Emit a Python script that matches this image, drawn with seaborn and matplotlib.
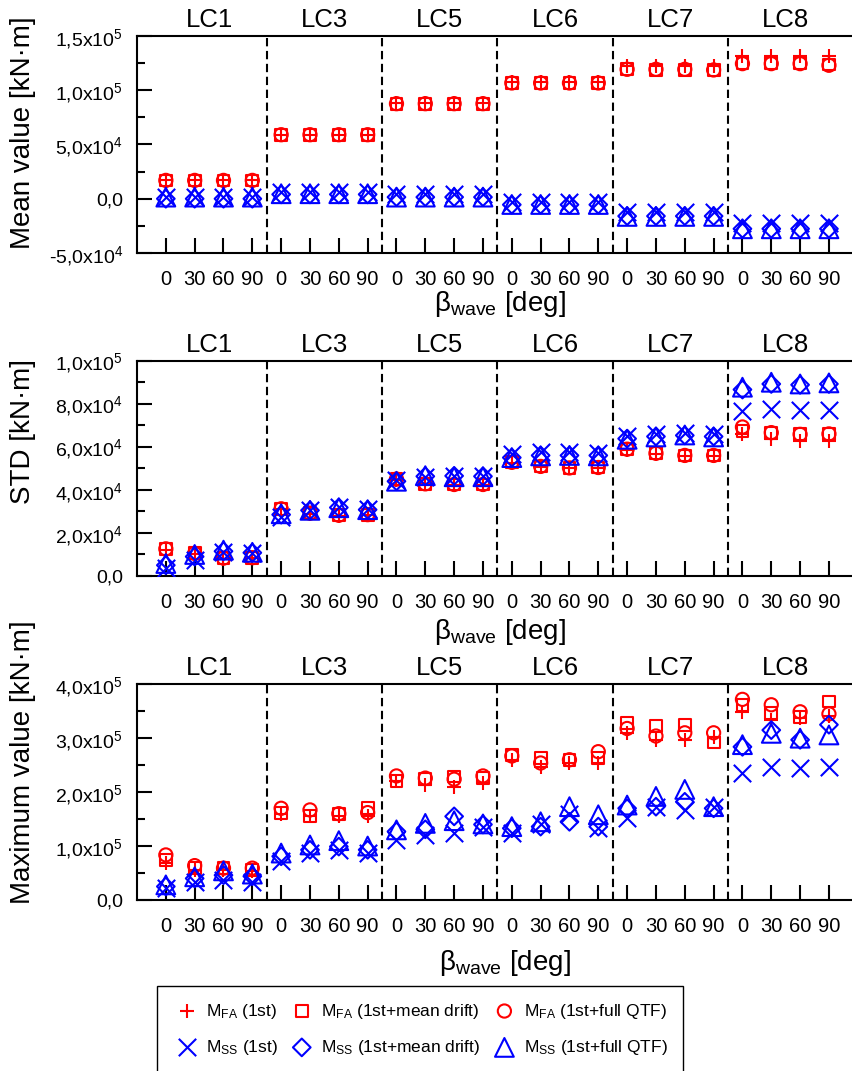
import numpy as np
import pandas as pd
import matplotlib
matplotlib.use("Agg")
import matplotlib.pyplot as plt
from matplotlib.ticker import MultipleLocator
import seaborn as sns

# Load cases and wave headings
load_cases = ['LC1', 'LC3', 'LC5', 'LC6', 'LC7', 'LC8']
headings = [0, 30, 60, 90]

# Mean value [kN·m]
mean_fa_1st = [17000, 17000, 17000, 17000, 59000, 59000, 59000, 59000,
               88000, 88000, 88000, 88000, 107500, 107500, 107500, 107500,
               122500, 122000, 122000, 122000, 132000, 132000, 132000, 132000]
mean_fa_drift = [16800, 16800, 16800, 16800, 59000, 59000, 59000, 59000,
                 87500, 87500, 87500, 87500, 106700, 106700, 106700, 106700,
                 119500, 119000, 119000, 118800, 125000, 124800, 124800, 123800]
mean_fa_qtf = [16900, 16900, 16900, 16900, 59000, 59000, 59000, 59000,
               87600, 87600, 87600, 87600, 106700, 106700, 106700, 106700,
               119300, 119300, 119300, 118700, 124500, 124500, 124500, 123000]
mean_ss_1st = [1500, 1500, 1500, 1500, 6000, 6000, 6000, 6000,
               4600, 4600, 4600, 4600, -3400, -3400, -3400, -3400,
               -12300, -12300, -12300, -12300, -22700, -22700, -22700, -22700]
mean_ss_drift = [0, 0, 0, 0, 4000, 4000, 4000, 4000,
                 1500, 1500, 1500, 1500, -5500, -5500, -5500, -5500,
                 -16000, -16000, -16000, -16000, -27700, -27700, -27700, -27700]
mean_ss_qtf = [1500, 1500, 1500, 1500, 4600, 4600, 4600, 4600,
               1500, 1500, 1500, 1500, -5300, -5300, -5300, -5300,
               -16300, -16300, -16300, -16300, -27700, -27700, -27700, -27700]

# Standard deviation [kN·m]
std_fa_1st = [12300, 10300, 8000, 8200, 31000, 29000, 28000, 28300,
              44700, 42600, 42300, 42300, 52500, 50600, 50000, 50200,
              58700, 56800, 55800, 55800, 65800, 63500, 62700, 62700]
std_fa_drift = [12500, 10500, 8300, 8400, 31200, 29200, 28200, 28500,
                45000, 42800, 42500, 42500, 52800, 50900, 50200, 50400,
                58900, 57000, 56000, 56000, 67400, 66600, 65800, 66000]
std_fa_qtf = [12600, 10500, 8300, 8500, 31200, 29200, 28200, 28500,
              45000, 42800, 42500, 42500, 52800, 50900, 50200, 50400,
              58900, 57000, 56000, 56000, 69200, 66600, 65800, 66000]
std_ss_1st = [3500, 7500, 11000, 10500, 27400, 30500, 32000, 31000,
              44500, 46000, 46500, 46500, 56600, 57400, 57400, 57000,
              65000, 65800, 66300, 65800, 76600, 77400, 77000, 77000]
std_ss_drift = [5000, 9000, 11500, 10800, 28500, 30500, 31800, 30800,
                44000, 46300, 46500, 46300, 55000, 56000, 56000, 56000,
                63800, 64800, 65300, 64800, 86600, 89200, 88800, 89200]
std_ss_qtf = [5800, 10000, 12000, 11000, 28900, 30500, 31700, 30800,
              44000, 46600, 46100, 46100, 55000, 55800, 56000, 55800,
              63500, 64600, 65500, 64600, 87700, 90000, 89200, 89700]

# Maximum value [kN·m]
max_fa_1st = [68000, 56000, 56000, 53000, 160000, 155000, 155000, 156000,
              220000, 213000, 210000, 216000, 260000, 247000, 254000, 254000,
              309000, 297000, 297000, 303000, 349000, 334000, 338000, 342000]
max_fa_drift = [74000, 59000, 59000, 56000, 161000, 156000, 160000, 170000,
                221000, 224000, 229000, 226000, 269000, 263000, 260000, 263000,
                328000, 322000, 324000, 292000, 362000, 346000, 340000, 368000]
max_fa_qtf = [83500, 63700, 59000, 59000, 170000, 167000, 160000, 162000,
              230000, 226000, 224000, 230000, 267000, 254000, 260000, 275000,
              318000, 304000, 310000, 310000, 372000, 362000, 349000, 345000]
max_ss_1st = [22000, 34000, 37000, 34000, 73000, 87000, 93000, 88000,
              111000, 121000, 125000, 136000, 124000, 140000, 160000, 133000,
              152000, 173000, 167000, 173000, 235000, 246000, 244000, 246000]
max_ss_drift = [25000, 40000, 46000, 44000, 81000, 93000, 99000, 93000,
                127000, 131000, 155000, 140000, 133000, 136000, 145000, 136000,
                170000, 173000, 182000, 170000, 284000, 315000, 297000, 325000]
max_ss_qtf = [28000, 43000, 54000, 48000, 87000, 102000, 110000, 100000,
              130000, 142000, 147000, 141000, 136000, 145000, 173000, 158000,
              176000, 192000, 205000, 173000, 288000, 309000, 300000, 306000]

series_labels = [r'M$_{\mathrm{FA}}$ (1st)', r'M$_{\mathrm{FA}}$ (1st+mean drift)',
                 r'M$_{\mathrm{FA}}$ (1st+full QTF)', r'M$_{\mathrm{SS}}$ (1st)',
                 r'M$_{\mathrm{SS}}$ (1st+mean drift)', r'M$_{\mathrm{SS}}$ (1st+full QTF)']

mean_yticks = [-5e4, 0, 5e4, 1e5, 1.5e5]
mean_yticklabels = ['-5,0x10$^4$', '0,0', '5,0x10$^4$', '1,0x10$^5$', '1,5x10$^5$']
std_yticks = [0, 2e4, 4e4, 6e4, 8e4, 1e5]
std_yticklabels = ['0,0', '2,0x10$^4$', '4,0x10$^4$', '6,0x10$^4$', '8,0x10$^4$', '1,0x10$^5$']
max_yticks = [0, 1e5, 2e5, 3e5, 4e5]
max_yticklabels = ['0,0', '1,0x10$^5$', '2,0x10$^5$', '3,0x10$^5$', '4,0x10$^5$']

# Styles
markers = ['+', 's', 'o', 'x', 'D', '^']
colors = ['#ff0000'] * 3 + ['#0000ff'] * 3
msizes = [10.5, 8.5, 9.5, 12.5, 9, 13.5]

sns.set_theme(style="white")
plt.rcParams['font.family'] = ['Liberation Sans', 'DejaVu Sans']
plt.rcParams['mathtext.fontset'] = 'custom'
plt.rcParams['mathtext.rm'] = 'Liberation Sans'
plt.rcParams['mathtext.it'] = 'Liberation Sans:italic'
plt.rcParams['mathtext.bf'] = 'Liberation Sans:bold'
plt.rcParams['axes.edgecolor'] = 'black'
plt.rcParams['text.color'] = 'black'
plt.rcParams['axes.labelcolor'] = 'black'
plt.rcParams['xtick.color'] = 'black'
plt.rcParams['ytick.color'] = 'black'

n_h = len(headings)
pos = np.arange(len(load_cases) * n_h)

panels = [
    dict(series=[mean_fa_1st, mean_fa_drift, mean_fa_qtf, mean_ss_1st, mean_ss_drift, mean_ss_qtf],
         ylim=(-5e4, 1.5e5), yticks=mean_yticks, yticklabels=mean_yticklabels, minor=2.5e4,
         ylabel='Mean value [kN·m]', box=[0.1608, 0.7638, 0.8392, 0.2026],
         ylab_y=0.553, xlab=(0.508, -0.166)),
    dict(series=[std_fa_1st, std_fa_drift, std_fa_qtf, std_ss_1st, std_ss_drift, std_ss_qtf],
         ylim=(0, 1e5), yticks=std_yticks, yticklabels=std_yticklabels, minor=1e4,
         ylabel='STD [kN·m]', box=[0.1608, 0.4622, 0.8392, 0.2010],
         ylab_y=0.669, xlab=(0.508, -0.190)),
    dict(series=[max_fa_1st, max_fa_drift, max_fa_qtf, max_ss_1st, max_ss_drift, max_ss_qtf],
         ylim=(0, 4e5), yticks=max_yticks, yticklabels=max_yticklabels, minor=5e4,
         ylabel='Maximum value [kN·m]', box=[0.1608, 0.1597, 0.8392, 0.2014],
         ylab_y=0.641, xlab=(0.515, -0.2225)),
]

fig = plt.figure(figsize=(8.52, 10.71), dpi=100)

for p in panels:
    ax = fig.add_axes(p['box'])
    df = pd.DataFrame({'pos': pos})
    for i, vals in enumerate(p['series']):
        df['s%d' % i] = vals
    for i in range(len(p['series'])):
        kw = dict(marker=markers[i], s=msizes[i] ** 2, linewidth=1.5,
                  color=colors[i], label=series_labels[i], legend=False, zorder=3)
        if markers[i] not in ('+', 'x'):
            kw['facecolor'] = 'none'
            kw['edgecolor'] = colors[i]
        sns.scatterplot(data=df, x='pos', y='s%d' % i, ax=ax, **kw)

    for k in range(1, len(load_cases)):
        ax.axvline(k * n_h - 0.5, color='black', lw=1.5, ls=(0, (4, 2.2)), zorder=2)
    for k, lc in enumerate(load_cases):
        ax.annotate(lc, xy=(k * n_h + (n_h - 1) / 2, 1), xycoords=('data', 'axes fraction'),
                    xytext=(0, 6.5), textcoords='offset points',
                    ha='center', va='baseline', fontsize=18.5)

    ax.set_xlim(-1, 23.8)
    ax.set_ylim(*p['ylim'])
    ax.set_xticks(pos)
    ax.set_xticklabels([str(h) for h in headings] * len(load_cases))
    ax.set_yticks(p['yticks'])
    ax.set_yticklabels(p['yticklabels'])
    ax.yaxis.set_minor_locator(MultipleLocator(p['minor']))
    ax.tick_params(axis='x', which='major', direction='in', length=10.8, width=1.5,
                   pad=12, labelsize=14.5, bottom=True, top=False)
    ax.tick_params(axis='y', which='major', direction='in', length=10.8, width=1.5,
                   pad=10, labelsize=14, left=True, right=False)
    ax.tick_params(axis='y', which='minor', direction='in', length=5.5, width=1.5,
                   left=True, right=False)
    for side in ['left', 'bottom', 'top']:
        ax.spines[side].set_linewidth(1.5)
        ax.spines[side].set_color('black')
    ax.spines['right'].set_visible(False)

    ax.set_ylabel(p['ylabel'], fontsize=20)
    ax.yaxis.set_label_coords(-0.141, p['ylab_y'])
    ax.set_xlabel('β$_{\\mathrm{wave}}$ [deg]', fontsize=20)
    ax.xaxis.set_label_coords(*p['xlab'])
    last_ax = ax

handles, labels = last_ax.get_legend_handles_labels()
order = [0, 3, 1, 4, 2, 5]
leg = fig.legend([handles[i] for i in order], [labels[i] for i in order],
                 loc='upper left', bbox_to_anchor=(0.1843, 0.0794), ncol=3,
                 frameon=True, fancybox=False, edgecolor='black', framealpha=1,
                 fontsize=12.5, borderpad=0.9, labelspacing=1.0, handlelength=1.6,
                 handletextpad=0.3, columnspacing=0.6, borderaxespad=0)
leg.get_frame().set_linewidth(1.0)

fig.savefig('out.png', dpi=100)
